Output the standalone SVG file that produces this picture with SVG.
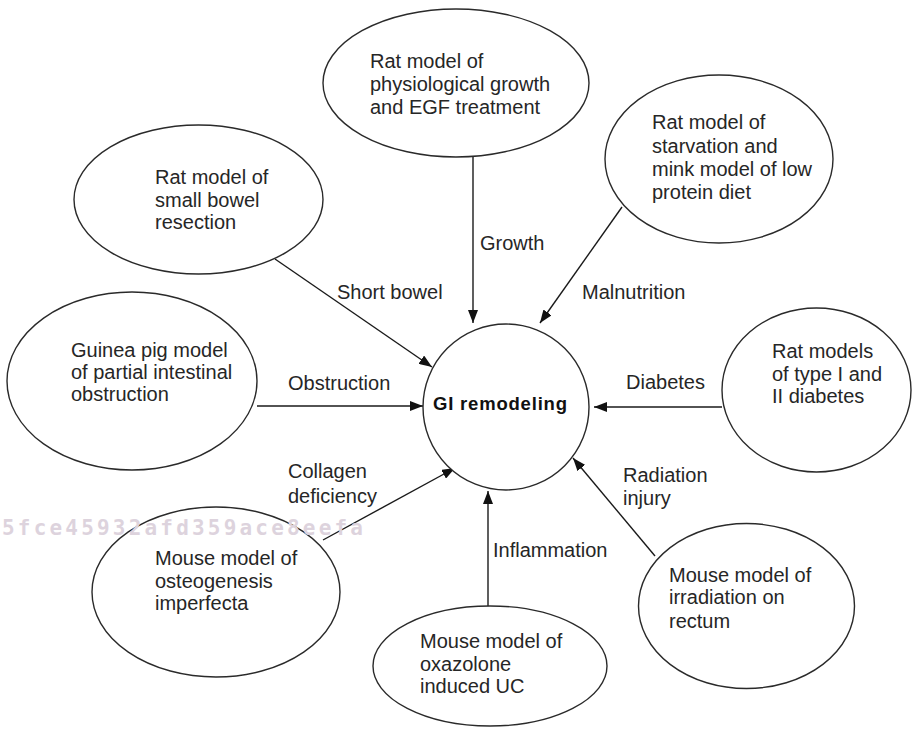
<svg xmlns="http://www.w3.org/2000/svg" width="912" height="739" viewBox="0 0 912 739">
<style>
.n{fill:#fff;stroke:#2a2a2a;stroke-width:1.4}
.t{font-family:"Liberation Sans",Arial,sans-serif;font-size:20px;fill:#262626}
.c{stroke:#1a1a1a;stroke-width:1.4;fill:none;marker-end:url(#ah)}
.wm{font-family:"DejaVu Sans Mono",monospace;font-weight:bold;font-size:21px;fill:#ddd3dd}
</style>
<defs>
<marker id="ah" markerUnits="userSpaceOnUse" markerWidth="14" markerHeight="10" refX="13" refY="5" orient="auto">
<path d="M0,0 L13,5 L0,10 z" fill="#111"/>
</marker>
</defs>
<rect width="912" height="739" fill="#fff"/>
<g id="connectors">
<line class="c" x1="473" y1="157" x2="473" y2="323"/>
<line class="c" x1="622" y1="207" x2="540" y2="323"/>
<line class="c" x1="275" y1="259" x2="432" y2="367"/>
<line class="c" x1="257" y1="406" x2="423" y2="406"/>
<line class="c" x1="722" y1="407" x2="594" y2="407"/>
<line class="c" x1="323" y1="540" x2="455" y2="468"/>
<line class="c" x1="488" y1="606" x2="488" y2="491"/>
<line class="c" x1="655" y1="556" x2="573" y2="458"/>
<text class="t" x="480" y="250">Growth</text>
<text class="t" x="582" y="299">Malnutrition</text>
<text class="t" x="337" y="299">Short bowel</text>
<text class="t" x="288" y="390">Obstruction</text>
<text class="t" x="626" y="389">Diabetes</text>
<text class="t" x="288" y="478">Collagen</text>
<text class="t" x="288" y="503">deficiency</text>
<text class="t" x="493" y="557">Inflammation</text>
<text class="t" x="623" y="482">Radiation</text>
<text class="t" x="623" y="505">injury</text>
</g>
<g id="center">
<circle class="n" cx="506" cy="407" r="83"/>
<text x="500" y="410" text-anchor="middle" textLength="134" style="font-family:'Liberation Sans',Arial,sans-serif;font-weight:bold;font-size:18.5px;fill:#111">GI remodeling</text>
</g>
<g id="growth">
<ellipse class="n" cx="456" cy="83" rx="133" ry="74"/>
<text class="t" x="370" y="68">Rat model of</text>
<text class="t" x="370" y="91">physiological growth</text>
<text class="t" x="370" y="114">and EGF treatment</text>
</g>
<g id="starvation">
<ellipse class="n" cx="719" cy="159" rx="114" ry="84"/>
<text class="t" x="652" y="129">Rat model of</text>
<text class="t" x="652" y="153">starvation and</text>
<text class="t" x="652" y="176">mink model of low</text>
<text class="t" x="652" y="199">protein diet</text>
</g>
<g id="bowel">
<ellipse class="n" cx="198.5" cy="199.5" rx="124.5" ry="74.5"/>
<text class="t" x="155" y="184">Rat model of</text>
<text class="t" x="155" y="207">small bowel</text>
<text class="t" x="155" y="229">resection</text>
</g>
<g id="guinea">
<ellipse class="n" cx="132" cy="381" rx="125" ry="89"/>
<text class="t" x="71" y="357">Guinea pig model</text>
<text class="t" x="71" y="379">of partial intestinal</text>
<text class="t" x="71" y="401">obstruction</text>
</g>
<g id="diabetes">
<ellipse class="n" cx="816.5" cy="390" rx="94.5" ry="82"/>
<text class="t" x="772" y="358">Rat models</text>
<text class="t" x="772" y="381">of type I and</text>
<text class="t" x="772" y="403">II diabetes</text>
</g>
<g id="osteo">
<ellipse class="n" cx="216" cy="592" rx="124" ry="85"/>
<text class="t" x="155" y="565">Mouse model of</text>
<text class="t" x="155" y="588">osteogenesis</text>
<text class="t" x="155" y="610">imperfecta</text>
</g>
<g id="oxazolone">
<ellipse class="n" cx="490" cy="666" rx="117" ry="60"/>
<text class="t" x="420" y="648">Mouse model of</text>
<text class="t" x="420" y="671">oxazolone</text>
<text class="t" x="420" y="693">induced UC</text>
</g>
<g id="irradiation">
<ellipse class="n" cx="746.5" cy="606" rx="108" ry="82.5"/>
<text class="t" x="669" y="582">Mouse model of</text>
<text class="t" x="669" y="604">irradiation on</text>
<text class="t" x="669" y="628">rectum</text>
</g>
<text class="wm" x="2" y="535" textLength="361">5fce45932afd359ace8eefa</text>
</svg>
